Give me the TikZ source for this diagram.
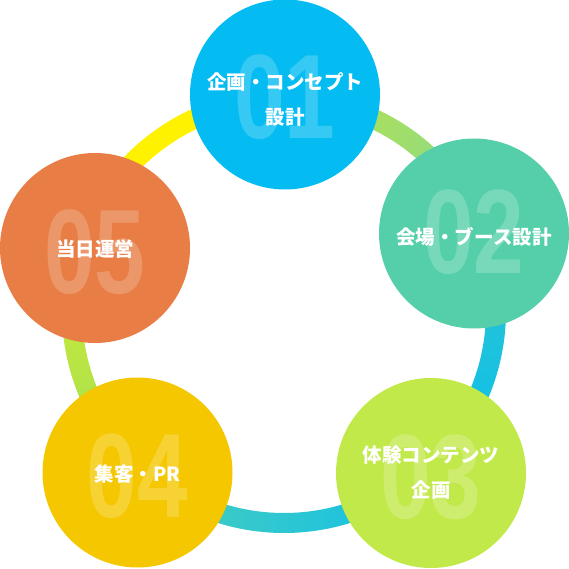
\documentclass[tikz,border=0pt]{standalone}
\usepackage{fontspec}
\setmainfont{Noto Sans CJK JP}
\newfontfamily\numfont{Liberation Sans}
\usetikzlibrary{calc}
\definecolor{sky}{HTML}{04BCF2}
\definecolor{mint}{HTML}{55CFA9}
\definecolor{lime}{HTML}{C2E94A}
\definecolor{gold}{HTML}{F4C700}
\definecolor{coral}{HTML}{E87E45}
\definecolor{lemon}{HTML}{FFF200}
\definecolor{sprout}{HTML}{B4E24E}
\definecolor{leaf}{HTML}{8AD98C}
\definecolor{lagoon}{HTML}{2CC4D1}
\definecolor{cyanb}{HTML}{0CBFEB}
\definecolor{teal}{HTML}{4ACEBB}
\definecolor{cyanc}{HTML}{10BFE9}
\definecolor{citrus}{HTML}{CEEB34}
\definecolor{fern}{HTML}{A4DF54}
\tikzset{
  stage/.style={circle, minimum size=190pt, inner sep=0pt},
  stagenum/.style={inner sep=0pt, text=white, text opacity=0.2,
    font=\numfont\bfseries\fontsize{120}{120}\selectfont},
  stagelab/.style={text=white, align=center, inner sep=0pt, font=\bfseries\fontsize{19.5}{35}\selectfont},
  ringseg/.style 2 args={insert path={($(ring)+(#1:222)$) arc[start angle=#1, end angle=#2, radius=222]
    -- ($(ring)+(#2:202)$) arc[start angle=#2, end angle=#1, radius=202] -- cycle}},
}
\newcommand{\numtxt}[1]{\scalebox{0.76}[1]{#1}}

\begin{document}
\begin{tikzpicture}[x=1pt, y=1pt]
    \useasboundingbox (0,0) rectangle (569,568);
    \coordinate (ring) at (284,257);
    % ring
    \fill[lemon, ringseg={89}{163}];
    \shade[top color=sprout, bottom color=leaf, shading angle=55, ringseg={21}{91}];
    \shade[top color=lagoon, bottom color=cyanb, shading angle=-12, ringseg={-49}{23}];
    \shade[top color=teal, bottom color=cyanc, shading angle=90, ringseg={-133}{-47}];
    \shade[top color=citrus, bottom color=fern, shading angle=10, ringseg={160}{229}];
    % stages
    \node[stage, fill=sky]   (s1) at (285,473.5) {};
    \node[stage, fill=mint]  (s2) at (474,334.5) {};
    \node[stage, fill=lime]  (s3) at (431,95)    {};
    \node[stage, fill=gold]  (s4) at (137.5,95.5) {};
    \node[stage, fill=coral] (s5) at (95,320)    {};
    % big numbers
    \node[stagenum] (n1) at ([yshift=-3pt]s1) {\numtxt{01}};
    \node[stagenum] (n2) at ([yshift=1pt]s2)  {\numtxt{02}};
    \node[stagenum] (n3) at ([yshift=-4pt]s3) {\numtxt{03}};
    \node[stagenum] (n4) at ([yshift=-4pt]s4) {\numtxt{04}};
    \node[stagenum] (n5) at ([yshift=-4pt]s5) {\numtxt{05}};
    % captions
    \node[stagelab] (t1) at ([yshift=-5pt]s1) {企画・コンセプト\\設計};
    \node[stagelab] (t2) at ([yshift=-3pt]s2) {会場・ブース設計};
    \node[stagelab] (t3) at (s3) {体験コンテンツ\\企画};
    \node[stagelab] (t4) at ([yshift=-2pt]s4) {集客・PR};
    \node[stagelab] (t5) at ([yshift=-1pt]s5) {当日運営};
\end{tikzpicture}
\end{document}
